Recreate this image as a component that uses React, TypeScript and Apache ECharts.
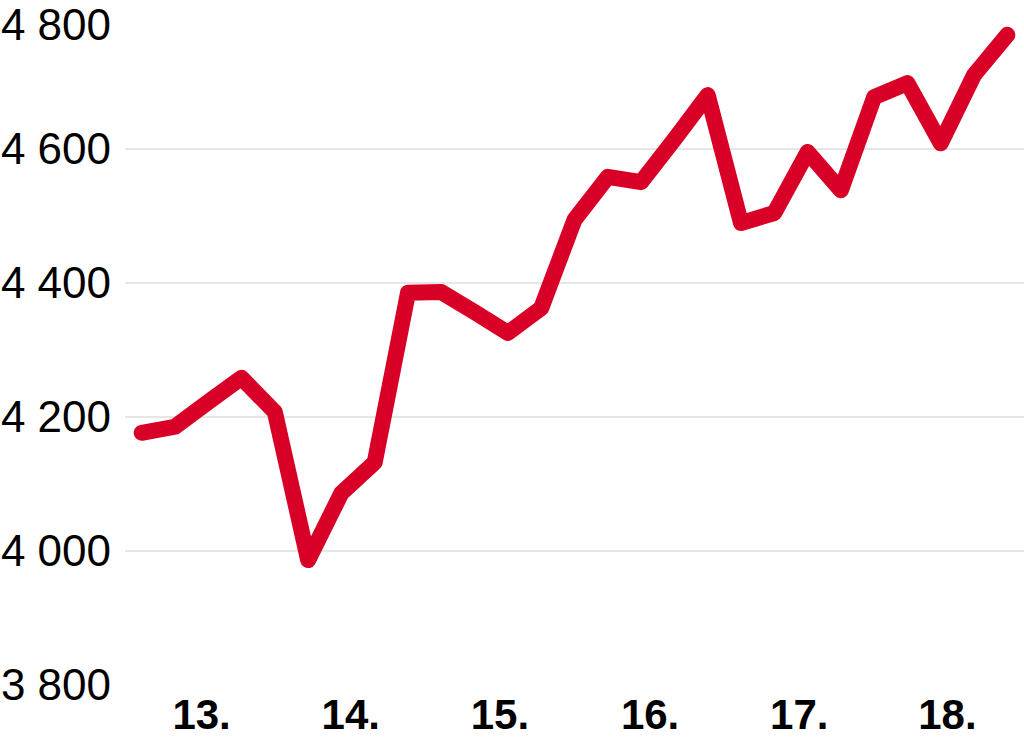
import { useEffect, useRef } from "react";
import * as echarts from "echarts";

// values, one per point
const values = [
  4176, 4185, 4222, 4258, 4207, 3986, 4086, 4132, 4385, 4386, 4356, 4325, 4362, 4494,
  4558, 4550, 4614, 4680, 4489, 4504, 4595, 4538, 4677, 4698, 4608, 4710, 4770,
];

// x axis labels and where they sit along the point index
const periodLabels = ["13.", "14.", "15.", "16.", "17.", "18."];
const periodAt = [1.8, 6.28, 10.76, 15.27, 19.75, 24.2];

const yMin = 3800;
const yMax = 4800;
const yStep = 200;

const FONT = "Liberation Sans, Arial, sans-serif";

function formatThousands(v: number) {
  const th = Math.floor(v / 1000);
  const rest = String(v % 1000).padStart(3, "0");
  return th + " " + rest;
}

export default function App() {
  const chartRef = useRef<HTMLDivElement>(null);

  useEffect(() => {
    document.body.style.margin = "0";
    if (!chartRef.current) return;
    const chart = echarts.init(chartRef.current, undefined, { renderer: "svg" });

    const option = {
      animation: false,
      grid: {
        left: 125,
        right: 0,
        top: 14.7,
        bottom: 54.3,
        outerBoundsMode: "none",
      },
      xAxis: {
        type: "value",
        min: -0.5,
        max: values.length - 0.5,
        axisLine: { show: false },
        axisTick: { show: false },
        splitLine: { show: false },
        axisLabel: {
          customValues: periodAt,
          margin: 12,
          fontSize: 42,
          lineHeight: 36,
          fontWeight: "bold",
          fontFamily: FONT,
          color: "#000",
          formatter: (v: number) => {
            let best = 0;
            periodAt.forEach((p, i) => {
              if (Math.abs(p - v) < Math.abs(periodAt[best] - v)) best = i;
            });
            return periodLabels[best];
          },
        },
      },
      yAxis: {
        type: "value",
        min: yMin,
        max: yMax,
        interval: yStep,
        axisLine: { show: false },
        axisTick: { show: false },
        axisLabel: {
          margin: 14,
          fontSize: 44,
          lineHeight: 30,
          fontFamily: FONT,
          color: "#000",
          // the top label is nudged down so it stays inside the page
          formatter: (v: number) =>
            v === yMax ? "{top|" + formatThousands(v) + "}" : formatThousands(v),
          rich: {
            top: {
              fontSize: 44,
              lineHeight: 30,
              fontFamily: FONT,
              color: "#000",
              padding: [20, 0, 0, 0],
            },
          },
        },
        splitLine: {
          show: true,
          showMinLine: false,
          showMaxLine: false,
          lineStyle: { color: "#e6e6e6", width: 2 },
        },
      },
      series: [
        {
          type: "line",
          data: values.map((v, i) => [i, v]),
          symbol: "none",
          clip: false,
          lineStyle: { color: "#d80027", width: 16, cap: "round", join: "round" },
        },
      ],
    };

    chart.setOption(option);

    const handleResize = () => chart.resize();
    window.addEventListener("resize", handleResize);
    return () => {
      window.removeEventListener("resize", handleResize);
      chart.dispose();
    };
  }, []);

  return <div ref={chartRef} style={{ width: "1024px", height: "739px" }}></div>;
}
